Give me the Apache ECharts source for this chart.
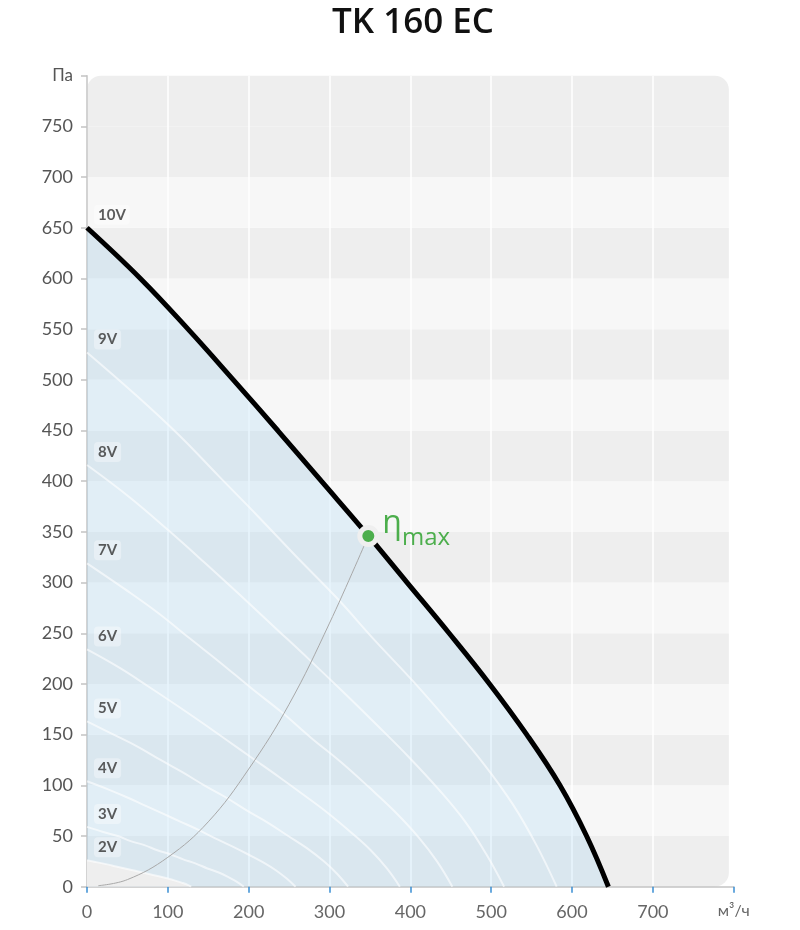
<!DOCTYPE html>
<html>
<head>
<meta charset="utf-8">
<script src="https://cdn.jsdelivr.net/npm/echarts@6/dist/echarts.min.js"></script>
<style>
  html, body { margin: 0; padding: 0; background: #ffffff; }
  #chart { width: 800px; height: 930px; }
</style>
</head>
<body>
<div id="chart"></div>
<script>
// ---------- data ----------
const titleText = 'TK 160 EC';
const xTickLabels = ['0', '100', '200', '300', '400', '500', '600', '700', 'м³/ч'];
const yUnit = 'Па';

// background bands: [from, to, shade(1 = darker)]
const bands = [
  [0, 50, 1], [50, 100, 0], [100, 150, 1], [150, 200, 0], [200, 250, 1],
  [250, 300, 0], [300, 350, 1], [350, 400, 0], [400, 450, 1], [450, 500, 0],
  [500, 550, 1], [550, 600, 0], [600, 650, 1], [650, 700, 0], [700, 750, 1],
  [750, 800, 1]
];

// fan curves: [airflow m³/h, pressure Pa]
const curve10V = [[0,650],[66,600],[125,550],[181,500],[236,450],[290,400],[344,350],[396,300],[448,250],[498,200],[544,150],[585,100],[618,50],[645,0]];
const curve9V  = [[0,527],[59,486],[113,446],[163,405],[212,365],[261,324],[310,284],[356,243],[403,203],[448,162],[490,122],[527,81],[556,41],[581,0]];
const curve8V  = [[0,416],[53,384],[100,352],[145,320],[189,288],[232,256],[275,224],[317,192],[358,160],[398,128],[435,96],[468,64],[494,32],[516,0]];
const curve7V  = [[0,319],[46,294],[88,270],[127,245],[165,221],[203,196],[241,172],[277,147],[314,123],[349,98],[381,74],[410,49],[433,25],[452,0]];
const curve6V  = [[0,234],[40,216],[75,198],[109,180],[142,162],[174,144],[206,126],[238,108],[269,90],[299,72],[326,54],[351,36],[371,18],[387,0]];
const curve5V  = [[0,163],[33,150],[63,138],[91,125],[118,113],[145,100],[172,88],[198,75],[224,63],[249,50],[272,38],[293,25],[309,13],[323,0]];
const curve4V  = [[0,104],[26,96],[50,88],[72,80],[94,72],[116,64],[138,56],[158,48],[179,40],[199,32],[218,24],[234,16],[247,8],[258,0]];
const curve3V  = [[0,59],[20,54],[38,50],[54,45],[71,41],[87,36],[103,32],[119,27],[134,23],[149,18],[163,14],[176,9],[185,5],[194,0]];
const curve2V  = [[0,26],[13,24],[25,22],[36,20],[47,18],[58,16],[69,14],[79,12],[90,10],[100,8],[109,6],[117,4],[124,2],[129,0]];

const voltageNames = ['10V','9V','8V','7V','6V','5V','4V','3V','2V'];
const voltageCurves = [curve10V, curve9V, curve8V, curve7V, curve6V, curve5V, curve4V, curve3V, curve2V];

// efficiency line and max-efficiency point
const effCurve = [[14,1],[50,7],[100,29],[150,64],[200,116],[250,180],[300,260],[348,346]];
const etaMaxPoint = [348, 346];

// ---------- chart ----------
const FONT = 'Lato, "Noto Sans", sans-serif';
const chart = echarts.init(document.getElementById('chart'), null, { renderer: 'canvas' });

const SMOOTH = 0.4;

const whiteCurves = voltageCurves.slice(1).map((c, i) => ({
  type: 'line',
  name: voltageNames[i + 1],
  data: c,
  smooth: SMOOTH,
  showSymbol: false,
  silent: true,
  z: 4,
  lineStyle: { color: 'rgba(255,255,255,0.6)', width: 2 }
}));

const option = {
  backgroundColor: '#ffffff',
  animation: false,
  title: {
    text: titleText,
    left: 327,
    top: 1,
    textStyle: { fontFamily: '"Open Sans", sans-serif', fontWeight: 600, fontSize: 35, color: '#111' }
  },
  grid: { left: 87, right: 66.3, top: 75.7, bottom: 43.3, containLabel: false },
  xAxis: {
    type: 'value',
    min: 0, max: 800, interval: 100,
    offset: 6,
    axisLine: { show: true, lineStyle: { color: '#c4c4c4', width: 1.5 } },
    axisTick: { show: true, length: 6, lineStyle: { color: '#3a8fd3', width: 1.5 } },
    axisLabel: {
      margin: 10,
      fontFamily: FONT, fontSize: 18, color: '#666',
      formatter: (v) => {
        const lbl = xTickLabels[Math.round(v / 100)];
        return v === 800 ? '{u|' + lbl + '}' : lbl;
      },
      rich: { u: { fontFamily: FONT, fontSize: 16, color: '#666' } }
    },
    splitLine: { show: true, lineStyle: { color: '#ffffff', width: 1.5 } }
  },
  yAxis: {
    type: 'value',
    min: 0, max: 800, interval: 50,
    offset: 4,
    axisLine: { show: true, lineStyle: { color: '#c4c4c4', width: 1.5 } },
    axisTick: { show: true, length: 6, lineStyle: { color: '#c4c4c4', width: 1.5 } },
    axisLabel: {
      margin: 10,
      fontFamily: FONT, fontSize: 18, color: '#555',
      formatter: (v) => v === 800 ? '{u|' + yUnit + '}' : String(v),
      rich: { u: { fontFamily: FONT, fontSize: 17, color: '#555' } }
    },
    splitLine: { show: false }
  },
  series: [
    {
      type: 'custom',
      name: 'bands',
      silent: true,
      z: -1,
      data: bands,
      renderItem: function (params, api) {
        const from = api.value(0), to = api.value(1), shade = api.value(2);
        const tl = api.coord([0, to]);
        const br = api.coord([794, from]);
        const rad = 14;
        const isTop = to >= 800, isBottom = from <= 0;
        return {
          type: 'rect',
          shape: {
            x: tl[0], y: tl[1], width: br[0] - tl[0], height: br[1] - tl[1],
            r: [isTop ? rad : 0, isTop ? rad : 0, isBottom ? rad : 0, isBottom ? rad : 0]
          },
          style: { fill: shade ? '#eeeeee' : '#f7f7f7' }
        };
      }
    },
    {
      type: 'line',
      name: '10V-area',
      data: curve10V,
      smooth: SMOOTH,
      showSymbol: false,
      silent: true,
      z: 2,
      lineStyle: { width: 0 },
      areaStyle: { color: 'rgba(152,211,247,0.22)', opacity: 1 }
    },
    {
      type: 'line',
      name: '2V-area',
      data: curve2V,
      smooth: SMOOTH,
      showSymbol: false,
      silent: true,
      z: 3,
      lineStyle: { width: 0 },
      areaStyle: { color: '#eeeeee', opacity: 1 }
    },
    ...whiteCurves,
    {
      type: 'line',
      name: 'efficiency',
      data: effCurve,
      smooth: SMOOTH,
      showSymbol: false,
      silent: true,
      z: 5,
      lineStyle: { color: '#a8a8a8', width: 1 }
    },
    {
      type: 'line',
      name: '10V',
      data: curve10V,
      smooth: SMOOTH,
      showSymbol: false,
      silent: true,
      z: 6,
      lineStyle: { color: '#000000', width: 5, cap: 'butt' }
    },
    {
      type: 'scatter',
      name: 'labels',
      silent: true,
      z: 7,
      symbolSize: 0,
      data: voltageCurves.map((c, i) => ({ value: c[0], name: voltageNames[i] })),
      label: {
        show: true,
        position: 'right',
        distance: 7,
        offset: [0, -13],
        formatter: '{b}',
        fontFamily: FONT,
        fontWeight: 'bold',
        fontSize: 15,
        color: '#333',
        backgroundColor: 'rgba(255,255,255,0.45)',
        borderRadius: 4,
        padding: [3, 4, 2, 4]
      }
    },
    {
      type: 'scatter',
      name: 'etaMax',
      silent: true,
      z: 8,
      data: [etaMaxPoint],
      symbol: 'circle',
      symbolSize: 17,
      itemStyle: { color: '#4cae4c', borderColor: '#efefef', borderWidth: 5, opacity: 1 },
      label: {
        show: true,
        position: 'right',
        distance: 3,
        offset: [0, -12],
        formatter: '{a|η}{b|max}',
        rich: {
          a: { fontFamily: '"Open Sans", sans-serif', fontSize: 32, color: '#4cae4c', verticalAlign: 'bottom' },
          b: { fontFamily: '"Open Sans", sans-serif', fontSize: 24, color: '#4cae4c', verticalAlign: 'bottom', padding: [0, 0, -10, 0] }
        }
      }
    }
  ]
};

chart.setOption(option);
</script>
</body>
</html>
